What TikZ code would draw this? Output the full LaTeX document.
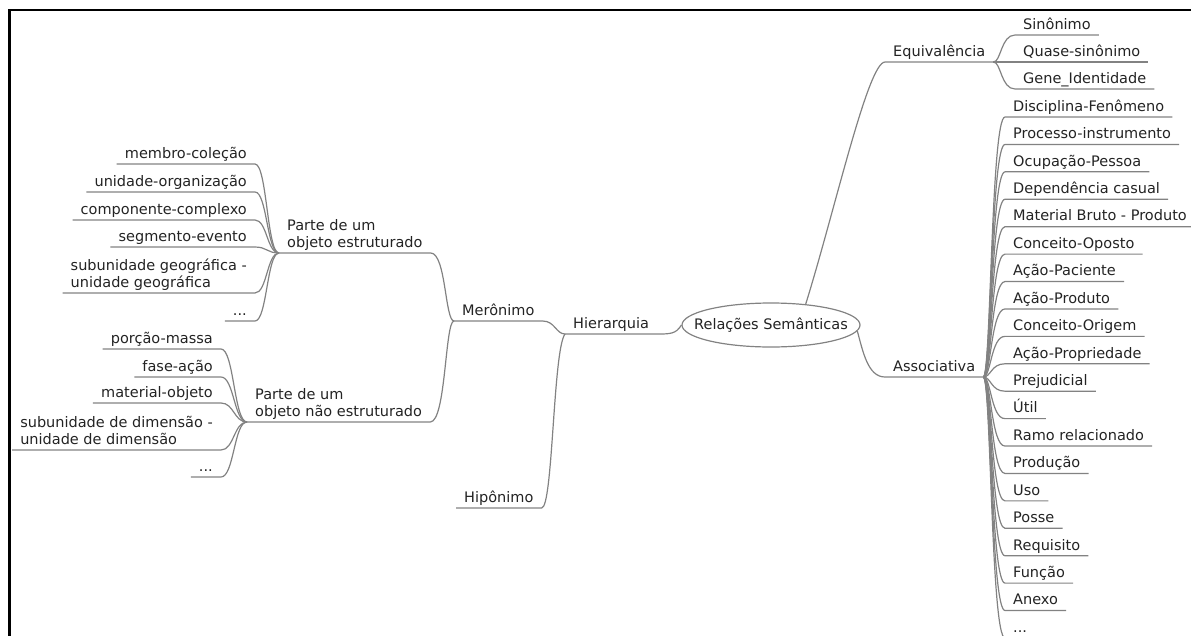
\documentclass[tikz,border=0pt]{standalone}
\usepackage{fontspec}
\setmainfont{DejaVu Sans}
\usetikzlibrary{shapes.geometric}
\definecolor{linegray}{RGB}{130,130,130}
\definecolor{txtgray}{RGB}{35,35,35}
\newcommand\mmdots{...}
\tikzset{
  mmbase/.style={font=\fontsize{14.5}{17}\selectfont, text=txtgray, inner xsep=8pt, inner ysep=1.8pt, text depth=3.7pt},
  mm/.style={mmbase, text height=10.5pt},
  mmr/.style={mm, anchor=south west},
  mml/.style={mm, anchor=south east},
  mmr2/.style={mmbase, anchor=south west, align=left},
  mml2/.style={mmbase, anchor=south east, align=left},
  conn/.style={draw=linegray, line width=1.2pt},
}
\begin{document}
\begin{tikzpicture}[x=1pt,y=-1pt]
\useasboundingbox (0,0) rectangle (1191,635);
\draw[line width=2.8pt] (1195,10) -- (9.4,10) -- (9.4,640);

% central node
\node[ellipse, draw=linegray, line width=1.2pt, minimum width=178pt, minimum height=44pt, inner sep=0pt,
      font=\fontsize{14.5}{17}\selectfont, text=txtgray] (rel) at (771,325) {\makebox[0pt]{Relações Semânticas}};

% Equivalencia
\node[mmr] (eq) at (885,62) {Equivalência};
\node[mmr] (sin) at (1015,35) {Sinônimo};
\node[mmr] (qs) at (1015,62) {Quase-sinônimo};
\node[mmr] (gi) at (1015,89) {Gene\_Identidade};
\draw[conn] (rel.31) .. controls (835,210) and (868,62) .. (eq.south west) -- (eq.south east);
\draw[conn] (eq.south east) .. controls (1001,62) and (1001,35) .. (sin.south west) -- (sin.south east);
\draw[conn] (eq.south east) -- (qs.south west) -- (qs.south east);
\draw[conn] (eq.south east) .. controls (1001,62) and (1001,89) .. (gi.south west) -- (gi.south east);

% Associativa
\node[mmr] (as) at (885,377) {Associativa};
\draw[conn] (rel.-4) .. controls (863,352) and (868,377) .. (as.south west) -- (as.south east);
\foreach \t [count=\i from 0] in {Disciplina-Fenômeno,Processo-instrumento,Ocupação-Pessoa,Dependência casual,Material Bruto - Produto,Conceito-Oposto,Ação-Paciente,Ação-Produto,Conceito-Origem,Ação-Propriedade,Prejudicial,Útil,Ramo relacionado,Produção,Uso,Posse,Requisito,Função,Anexo,\mmdots}{
  \pgfmathsetmacro\yy{117+27.42*\i}
  \node[mmr] (a\i) at (1005,\yy) {\t};
  \draw[conn] (as.south east) .. controls (991,377) and (991,\yy) .. (a\i.south west) -- (a\i.south east);
}

% Hierarquia
\node[mmr] (hi) at (565,334) {Hierarquia};
\node[mmr] (me) at (454,321) {Merônimo};
\node[mmr] (hp) at (456,508) {Hipônimo};
\draw[conn] (rel.west) .. controls (676,334) and (670,334) .. (hi.south east) -- (hi.south west);
\draw[conn] (hi.south west) .. controls (556,334) and (555,321) .. (me.south east) -- (me.south west);
\draw[conn] (hi.south west) .. controls (553,350) and (553,508) .. (hp.south east) -- (hp.south west);

% Partes
\node[mmr2] (pe) at (279,253) {Parte de um\\objeto estruturado};
\node[mmr2] (pn) at (247,422) {Parte de um\\objeto não estruturado};
\draw[conn] (me.south west) .. controls (445,321) and (446,253) .. (pe.south east) -- (pe.south west);
\draw[conn] (me.south west) .. controls (445,321) and (446,422) .. (pn.south east) -- (pn.south west);

% leaves of structured
\node[mml] (s1) at (255,164) {membro-coleção};
\node[mml] (s2) at (255,192) {unidade-organização};
\node[mml] (s3) at (255,220) {componente-complexo};
\node[mml] (s4) at (255,247) {segmento-evento};
\node[mml2] (s5) at (255,293) {subunidade geográfica -\\unidade geográfica};
\node[mml] (s6) at (255,321) {\mmdots};
\foreach \n/\y in {s1/164,s2/192,s3/220,s4/247,s5/293,s6/321}{
  \draw[conn] (pe.south west) .. controls (267,253) and (267,\y) .. (\n.south east) -- (\n.south west);
}

% leaves of non-structured
\node[mml] (n1) at (221,349) {porção-massa};
\node[mml] (n2) at (221,377) {fase-ação};
\node[mml] (n3) at (221,403) {material-objeto};
\node[mml2] (n4) at (221,450) {subunidade de dimensão -\\unidade de dimensão};
\node[mml] (n5) at (221,477) {\mmdots};
\foreach \n/\y in {n1/349,n2/377,n3/403,n4/450,n5/477}{
  \draw[conn] (pn.south west) .. controls (234,422) and (234,\y) .. (\n.south east) -- (\n.south west);
}
\end{tikzpicture}
\end{document}
